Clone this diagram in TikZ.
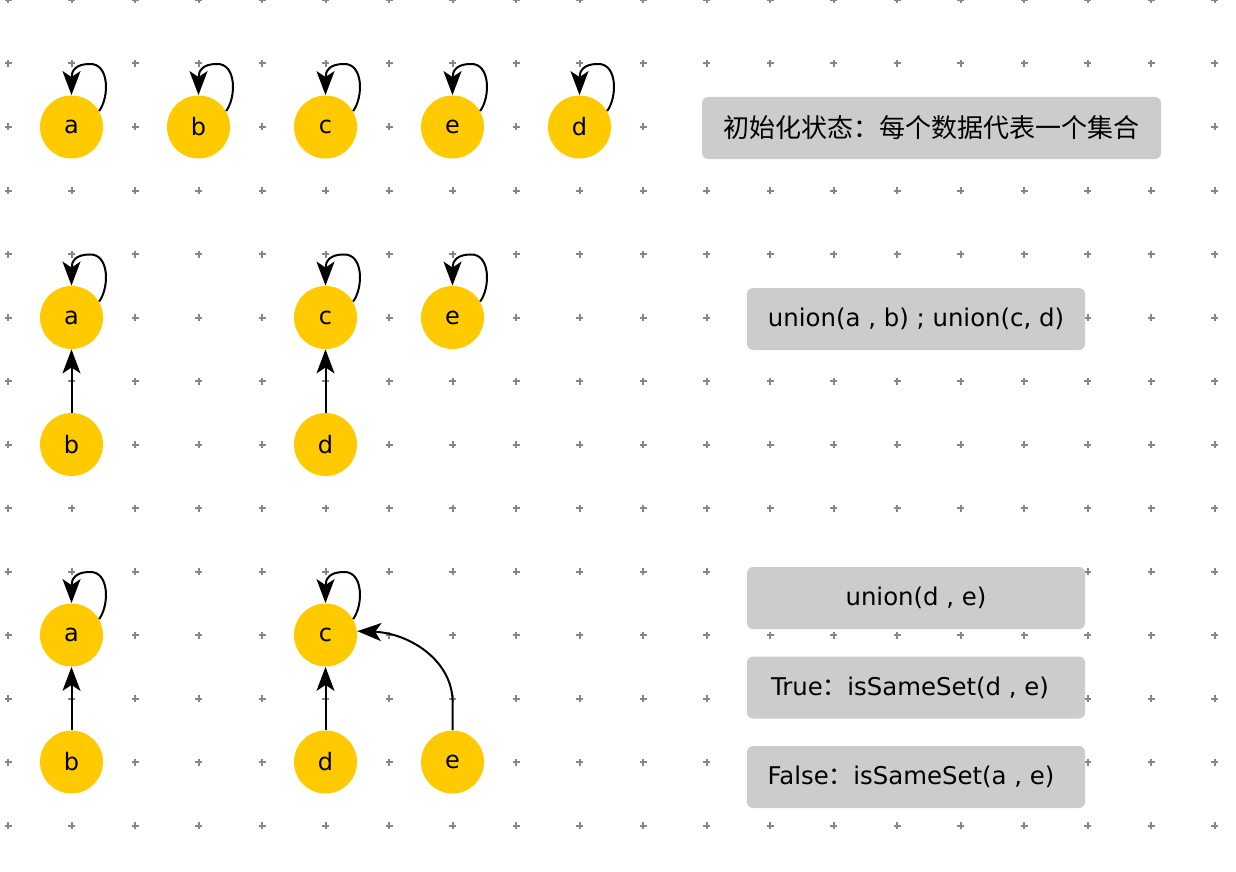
\documentclass[tikz,border=0pt]{standalone}
\usepackage{fontspec}
\setmainfont{DejaVu Sans}
\newfontfamily\cjk{Noto Sans CJK SC}
\usetikzlibrary{arrows.meta}
\definecolor{nodeyellow}{RGB}{255,202,0}
\definecolor{boxgray}{RGB}{204,204,204}
\definecolor{dotgray}{RGB}{135,135,135}
\newcommand\selfloop[1]{%
  \draw[arr] (#1.30) .. controls ([shift={(38,-30)}]#1.center) and ([shift={(38,-64)}]#1.center) .. ([shift={(18,-63)}]#1.center)
    .. controls ([shift={(4,-63)}]#1.center) and ([shift={(0,-56)}]#1.center) .. (#1.north);}
\begin{document}
\begin{tikzpicture}[x=0.5pt,y=-0.5pt,
  setnode/.style={circle,fill=nodeyellow,minimum size=31.5pt,inner sep=0pt,font=\fontsize{12}{14}\selectfont},
  textbox/.style={rounded corners=3pt,fill=boxgray,minimum height=31pt,inner sep=0pt,font=\fontsize{12.2}{14}\selectfont},
  arr/.style={line width=1pt,-{Stealth[length=12pt,width=9pt,inset=3pt]}},
  griddot/.style={dotgray,line width=1pt}]
\useasboundingbox (0,0) rectangle (1236,872);
% grid
\foreach \i in {0,...,19}{
  \foreach \j in {0,...,13}{
    \draw[griddot] ({8+63.5*\i-3.5},{63.5*\j}) -- ({8+63.5*\i+3.5},{63.5*\j})
                   ({8+63.5*\i},{63.5*\j-3.5}) -- ({8+63.5*\i},{63.5*\j+3.5});
  }
}
% row 1
\node[setnode] (a1) at (71.5,127) {\raisebox{-1pt}{a}};
\node[setnode] (b1) at (198.5,127) {\raisebox{-1pt}{b}};
\node[setnode] (c1) at (325.5,127) {\raisebox{-1pt}{c}};
\node[setnode] (e1) at (452.5,127) {\raisebox{-1pt}{e}};
\node[setnode] (d1) at (579.5,127) {\raisebox{-1pt}{d}};
\selfloop{a1}\selfloop{b1}\selfloop{c1}\selfloop{e1}\selfloop{d1}
% row 2
\node[setnode] (a2) at (71.5,317.5) {\raisebox{-1pt}{a}};
\node[setnode] (c2) at (325.5,317.5) {\raisebox{-1pt}{c}};
\node[setnode] (e2) at (452.5,317.5) {\raisebox{-1pt}{e}};
\node[setnode] (b2) at (71.5,444.5) {\raisebox{-1pt}{b}};
\node[setnode] (d2) at (325.5,444.5) {\raisebox{-1pt}{d}};
\selfloop{a2}\selfloop{c2}\selfloop{e2}
\draw[arr] (b2.north) -- (a2.south);
\draw[arr] (d2.north) -- (c2.south);
% row 3
\node[setnode] (a3) at (71.5,635) {\raisebox{-1pt}{a}};
\node[setnode] (c3) at (325.5,635) {\raisebox{-1pt}{c}};
\node[setnode] (b3) at (71.5,762) {\raisebox{-1pt}{b}};
\node[setnode] (d3) at (325.5,762) {\raisebox{-1pt}{d}};
\node[setnode] (e3) at (452.5,762) {\raisebox{-1pt}{e}};
\selfloop{a3}\selfloop{c3}
\draw[arr] (b3.north) -- (a3.south);
\draw[arr] (d3.north) -- (c3.south);
\draw[arr] (e3.north) -- ([shift={(0,-31)}]e3.north) .. controls ([shift={(-2,-71)}]e3.north) and ([shift={(-44,-97)}]e3.north) .. (c3.7);
% boxes
\node[textbox,minimum width=229.5pt] (t1) at (931.5,128) {\cjk\fontsize{13}{15}\selectfont 初始化状态：每个数据代表一个集合};
\node[textbox,minimum width=169pt] (t2) at (916,319) {union(a , b) ; union(c, d)};
\node[textbox,minimum width=169pt] (t3) at (916,598) {union(d , e)};
\node[textbox,minimum width=169pt] (t4) at (916,687.5) {True{\cjk ：}isSameSet(d , e)\kern6pt\null};
\node[textbox,minimum width=169pt] (t5) at (916,777) {False{\cjk ：}isSameSet(a , e)\kern5pt\null};
\end{tikzpicture}
\end{document}
